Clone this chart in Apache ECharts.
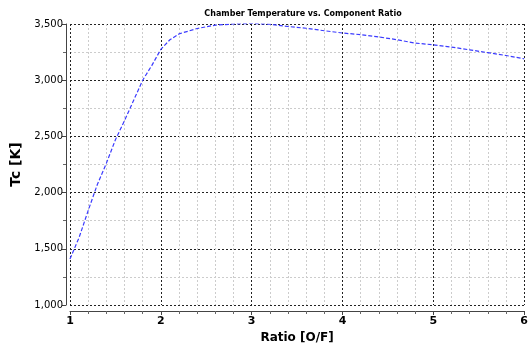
<!DOCTYPE html>
<html><head><meta charset="utf-8">
<script src="https://cdn.jsdelivr.net/npm/echarts@6/dist/echarts.min.js"></script>
<style>html,body{margin:0;padding:0;background:#fff}#c{width:531px;height:349px}</style>
</head><body><div id="c"></div>
<script>
const ratio = [1.0,1.1,1.2,1.3,1.4,1.5,1.6,1.7,1.8,1.9,2.0,2.1,2.2,2.4,2.6,2.8,3.0,3.2,3.4,3.6,3.8,4.0,4.2,4.4,4.6,4.8,5.0,5.2,5.4,5.6,5.8,6.0];
const tc    = [1410,1600,1840,2070,2260,2470,2640,2820,3000,3130,3275,3360,3412,3460,3490,3500,3505,3498,3478,3462,3440,3420,3405,3385,3360,3330,3315,3295,3270,3245,3220,3190];
const titleText = 'Chamber Temperature vs. Component Ratio';
const xName = 'Ratio [O/F]';
const yName = 'Tc [K]';

const chart = echarts.init(document.getElementById('c'), null, {renderer:'canvas'});
const font = 'DejaVu Sans';
chart.setOption({
  animation:false,
  backgroundColor:'#fff',
  title:{text:titleText,left:298,top:5,textAlign:'center',
    textStyle:{fontFamily:font,fontSize:8,fontWeight:'bold',color:'#000'}},
  grid:{left:70,right:4,top:24,bottom:42},
  xAxis:{type:'value',min:1,max:6,interval:1,offset:6,
    name:xName,nameLocation:'middle',nameGap:21,
    nameTextStyle:{fontFamily:font,fontSize:12,fontWeight:'bold',color:'#000'},
    axisLine:{show:true,lineStyle:{color:'#444',width:1}},
    axisTick:{show:true,length:4,inside:false,lineStyle:{color:'#444'}},
    minorTick:{show:true,splitNumber:5,length:3,lineStyle:{color:'#666'}},
    axisLabel:{fontFamily:font,fontSize:11,fontWeight:'bold',color:'#000',margin:5},
    splitLine:{show:true,lineStyle:{color:'#222',type:[2,2],width:1}},
    minorSplitLine:{show:true,lineStyle:{color:'#ccc',type:[2,2],width:1}}
  },
  yAxis:{type:'value',min:1000,max:3500,interval:500,offset:4,
    name:yName,nameLocation:'middle',nameGap:42,
    nameTextStyle:{fontFamily:font,fontSize:14,fontWeight:'bold',color:'#000'},
    axisLine:{show:true,lineStyle:{color:'#444',width:1}},
    axisTick:{show:true,length:4,lineStyle:{color:'#444'}},
    minorTick:{show:true,splitNumber:2,length:3,lineStyle:{color:'#666'}},
    axisLabel:{fontFamily:font,fontSize:10,color:'#000',margin:3,
      formatter:v=>v.toLocaleString('en-US')},
    splitLine:{show:true,lineStyle:{color:'#222',type:[2,2],width:1}},
    minorSplitLine:{show:true,lineStyle:{color:'#ccc',type:[2,2],width:1}}
  },
  series:[{type:'line',data:ratio.map((r,i)=>[r,tc[i]]),showSymbol:false,smooth:false,
    lineStyle:{color:'#3b3bff',width:1.2,type:[4,2]}}]
});
</script></body></html>
